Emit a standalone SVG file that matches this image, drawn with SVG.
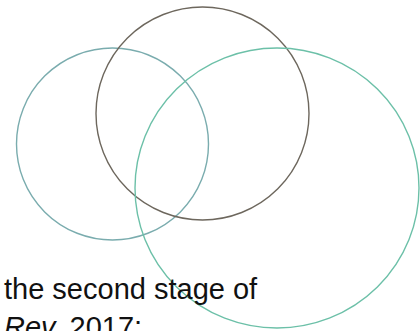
<svg xmlns="http://www.w3.org/2000/svg" width="420" height="331" viewBox="0 0 420 331">
<style>
.c{fill:none;stroke-width:1.4}
.t{font-family:"Liberation Sans",Arial,sans-serif;font-size:29px;fill:#111}
</style>
<rect width="420" height="331" fill="#fff"/>
<g id="circle-left"><circle class="c" cx="112.5" cy="144" r="96" stroke="#7aacae"/></g>
<g id="circle-top"><circle class="c" cx="202.5" cy="113.5" r="106.5" stroke="#6d675d"/></g>
<g id="circle-right"><ellipse class="c" cx="277" cy="188" rx="142" ry="140" stroke="#6cc0a8"/></g>
<g id="caption">
<text class="t" x="4" y="299">the second stage of</text>
<text class="t" x="4" y="337"><tspan font-style="italic">Rev.</tspan> 2017;</text>
</g>
</svg>
